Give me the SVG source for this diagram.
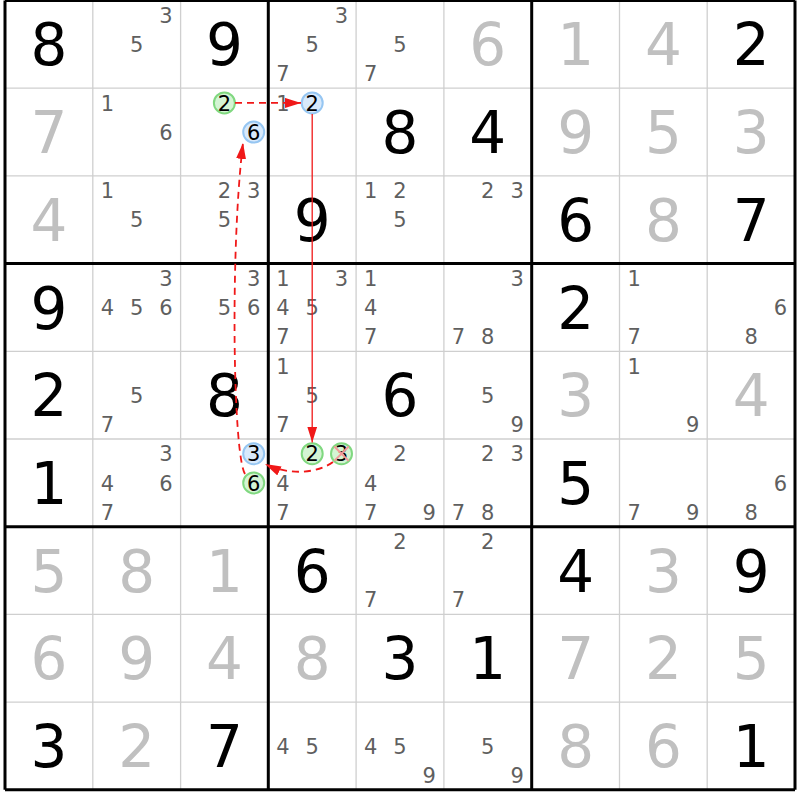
<svg xmlns="http://www.w3.org/2000/svg" width="800" height="800" viewBox="0 0 800 800">
<style>
text{font-family:"DejaVu Sans","Verdana",sans-serif;text-anchor:middle}
.g{font-size:58px;fill:#000}
.s{font-size:58px;fill:#c0c0c0}
.c{font-size:21px;fill:#5f5f5f}
.h{font-size:21px;fill:#000}
.thin{stroke:#cfcfcf;stroke-width:1.3}
.thick{stroke:#000;stroke-width:3}
.cg{fill:#d4f4d4;stroke:#80d880;stroke-width:2}
.cb{fill:#d8e9fb;stroke:#96c6f2;stroke-width:2}
.x{stroke:#f29a9a;stroke-width:2}
.dash{fill:none;stroke:#f01818;stroke-width:1.8;stroke-dasharray:7 5}
.solid{fill:none;stroke:#f01818;stroke-width:1.3}
</style>
<defs>
<marker id="ah" markerUnits="userSpaceOnUse" markerWidth="16" markerHeight="10" refX="16" refY="5" orient="auto">
<path d="M0,0 L16,5 L0,10 z" fill="#f01818"/>
</marker>
</defs>
<rect width="800" height="800" fill="#fff"/>
<g id="grid">
<path class="thin" d="M92.8,0.5V789.8M180.6,0.5V789.8M356.1,0.5V789.8M443.9,0.5V789.8M619.5,0.5V789.8M707.2,0.5V789.8M5,88.2H795M5,175.9H795M5,351.3H795M5,439H795M5,614.4H795M5,702.1H795"/>
<path class="thick" d="M5,0.5V789.8M268.3,0.5V789.8M531.7,0.5V789.8M795,0.5V789.8M5,0.5H795M5,263.6H795M5,526.7H795M5,789.8H795"/>
</g>
<g id="r0">
<g id="r0c0"><text class="g" x="48.9" y="65.4">8</text></g>
<g id="r0c1"><text class="c" x="166" y="22.8">3</text><text class="c" x="136.7" y="52">5</text></g>
<g id="r0c2"><text class="g" x="224.4" y="65.4">9</text></g>
<g id="r0c3"><text class="c" x="341.5" y="22.8">3</text><text class="c" x="312.2" y="52">5</text><text class="c" x="282.9" y="81.2">7</text></g>
<g id="r0c4"><text class="c" x="400" y="52">5</text><text class="c" x="370.7" y="81.2">7</text></g>
<g id="r0c5"><text class="s" x="487.8" y="65.4">6</text></g>
<g id="r0c6"><text class="s" x="575.6" y="65.4">1</text></g>
<g id="r0c7"><text class="s" x="663.4" y="65.4">4</text></g>
<g id="r0c8"><text class="g" x="751.1" y="65.4">2</text></g>
</g>
<g id="r1">
<g id="r1c0"><text class="s" x="48.9" y="153.1">7</text></g>
<g id="r1c1"><text class="c" x="107.4" y="110.5">1</text><text class="c" x="166" y="139.7">6</text></g>
<g id="r1c2"><circle class="cg" cx="224.4" cy="102.9" r="10.5"/><text class="h" x="224.4" y="110.5">2</text><circle class="cb" cx="253.7" cy="132.1" r="10.5"/><text class="h" x="253.7" y="139.7">6</text></g>
<g id="r1c3"><text class="c" x="282.9" y="110.5">1</text><circle class="cb" cx="312.2" cy="102.9" r="10.5"/><text class="h" x="312.2" y="110.5">2</text></g>
<g id="r1c4"><text class="g" x="400" y="153.1">8</text></g>
<g id="r1c5"><text class="g" x="487.8" y="153.1">4</text></g>
<g id="r1c6"><text class="s" x="575.6" y="153.1">9</text></g>
<g id="r1c7"><text class="s" x="663.4" y="153.1">5</text></g>
<g id="r1c8"><text class="s" x="751.1" y="153.1">3</text></g>
</g>
<g id="r2">
<g id="r2c0"><text class="s" x="48.9" y="240.8">4</text></g>
<g id="r2c1"><text class="c" x="107.4" y="198.2">1</text><text class="c" x="136.7" y="227.4">5</text></g>
<g id="r2c2"><text class="c" x="224.4" y="198.2">2</text><text class="c" x="253.7" y="198.2">3</text><text class="c" x="224.4" y="227.4">5</text></g>
<g id="r2c3"><text class="g" x="312.2" y="240.8">9</text></g>
<g id="r2c4"><text class="c" x="370.7" y="198.2">1</text><text class="c" x="400" y="198.2">2</text><text class="c" x="400" y="227.4">5</text></g>
<g id="r2c5"><text class="c" x="487.8" y="198.2">2</text><text class="c" x="517.1" y="198.2">3</text></g>
<g id="r2c6"><text class="g" x="575.6" y="240.8">6</text></g>
<g id="r2c7"><text class="s" x="663.4" y="240.8">8</text></g>
<g id="r2c8"><text class="g" x="751.1" y="240.8">7</text></g>
</g>
<g id="r3">
<g id="r3c0"><text class="g" x="48.9" y="328.5">9</text></g>
<g id="r3c1"><text class="c" x="166" y="285.9">3</text><text class="c" x="107.4" y="315.1">4</text><text class="c" x="136.7" y="315.1">5</text><text class="c" x="166" y="315.1">6</text></g>
<g id="r3c2"><text class="c" x="253.7" y="285.9">3</text><text class="c" x="224.4" y="315.1">5</text><text class="c" x="253.7" y="315.1">6</text></g>
<g id="r3c3"><text class="c" x="282.9" y="285.9">1</text><text class="c" x="341.5" y="285.9">3</text><text class="c" x="282.9" y="315.1">4</text><text class="c" x="312.2" y="315.1">5</text><text class="c" x="282.9" y="344.3">7</text></g>
<g id="r3c4"><text class="c" x="370.7" y="285.9">1</text><text class="c" x="370.7" y="315.1">4</text><text class="c" x="370.7" y="344.3">7</text></g>
<g id="r3c5"><text class="c" x="517.1" y="285.9">3</text><text class="c" x="458.5" y="344.3">7</text><text class="c" x="487.8" y="344.3">8</text></g>
<g id="r3c6"><text class="g" x="575.6" y="328.5">2</text></g>
<g id="r3c7"><text class="c" x="634.1" y="285.9">1</text><text class="c" x="634.1" y="344.3">7</text></g>
<g id="r3c8"><text class="c" x="780.4" y="315.1">6</text><text class="c" x="751.1" y="344.3">8</text></g>
</g>
<g id="r4">
<g id="r4c0"><text class="g" x="48.9" y="416.2">2</text></g>
<g id="r4c1"><text class="c" x="136.7" y="402.8">5</text><text class="c" x="107.4" y="432">7</text></g>
<g id="r4c2"><text class="g" x="224.4" y="416.2">8</text></g>
<g id="r4c3"><text class="c" x="282.9" y="373.6">1</text><text class="c" x="312.2" y="402.8">5</text><text class="c" x="282.9" y="432">7</text></g>
<g id="r4c4"><text class="g" x="400" y="416.2">6</text></g>
<g id="r4c5"><text class="c" x="487.8" y="402.8">5</text><text class="c" x="517.1" y="432">9</text></g>
<g id="r4c6"><text class="s" x="575.6" y="416.2">3</text></g>
<g id="r4c7"><text class="c" x="634.1" y="373.6">1</text><text class="c" x="692.7" y="432">9</text></g>
<g id="r4c8"><text class="s" x="751.1" y="416.2">4</text></g>
</g>
<g id="r5">
<g id="r5c0"><text class="g" x="48.9" y="503.9">1</text></g>
<g id="r5c1"><text class="c" x="166" y="461.3">3</text><text class="c" x="107.4" y="490.5">4</text><text class="c" x="166" y="490.5">6</text><text class="c" x="107.4" y="519.7">7</text></g>
<g id="r5c2"><circle class="cb" cx="253.7" cy="453.7" r="10.5"/><text class="h" x="253.7" y="461.3">3</text><circle class="cg" cx="253.7" cy="482.9" r="10.5"/><text class="h" x="253.7" y="490.5">6</text></g>
<g id="r5c3"><circle class="cg" cx="312.2" cy="453.7" r="10.5"/><text class="h" x="312.2" y="461.3">2</text><circle class="cg" cx="341.5" cy="453.7" r="10.5"/><text class="h" x="341.5" y="461.3">3</text><path class="x" d="M334.3,446.5L348.7,460.9M348.7,446.5L334.3,460.9"/><text class="c" x="282.9" y="490.5">4</text><text class="c" x="282.9" y="519.7">7</text></g>
<g id="r5c4"><text class="c" x="400" y="461.3">2</text><text class="c" x="370.7" y="490.5">4</text><text class="c" x="370.7" y="519.7">7</text><text class="c" x="429.3" y="519.7">9</text></g>
<g id="r5c5"><text class="c" x="487.8" y="461.3">2</text><text class="c" x="517.1" y="461.3">3</text><text class="c" x="458.5" y="519.7">7</text><text class="c" x="487.8" y="519.7">8</text></g>
<g id="r5c6"><text class="g" x="575.6" y="503.9">5</text></g>
<g id="r5c7"><text class="c" x="634.1" y="519.7">7</text><text class="c" x="692.7" y="519.7">9</text></g>
<g id="r5c8"><text class="c" x="780.4" y="490.5">6</text><text class="c" x="751.1" y="519.7">8</text></g>
</g>
<g id="r6">
<g id="r6c0"><text class="s" x="48.9" y="591.6">5</text></g>
<g id="r6c1"><text class="s" x="136.7" y="591.6">8</text></g>
<g id="r6c2"><text class="s" x="224.4" y="591.6">1</text></g>
<g id="r6c3"><text class="g" x="312.2" y="591.6">6</text></g>
<g id="r6c4"><text class="c" x="400" y="549">2</text><text class="c" x="370.7" y="607.4">7</text></g>
<g id="r6c5"><text class="c" x="487.8" y="549">2</text><text class="c" x="458.5" y="607.4">7</text></g>
<g id="r6c6"><text class="g" x="575.6" y="591.6">4</text></g>
<g id="r6c7"><text class="s" x="663.4" y="591.6">3</text></g>
<g id="r6c8"><text class="g" x="751.1" y="591.6">9</text></g>
</g>
<g id="r7">
<g id="r7c0"><text class="s" x="48.9" y="679.3">6</text></g>
<g id="r7c1"><text class="s" x="136.7" y="679.3">9</text></g>
<g id="r7c2"><text class="s" x="224.4" y="679.3">4</text></g>
<g id="r7c3"><text class="s" x="312.2" y="679.3">8</text></g>
<g id="r7c4"><text class="g" x="400" y="679.3">3</text></g>
<g id="r7c5"><text class="g" x="487.8" y="679.3">1</text></g>
<g id="r7c6"><text class="s" x="575.6" y="679.3">7</text></g>
<g id="r7c7"><text class="s" x="663.4" y="679.3">2</text></g>
<g id="r7c8"><text class="s" x="751.1" y="679.3">5</text></g>
</g>
<g id="r8">
<g id="r8c0"><text class="g" x="48.9" y="767">3</text></g>
<g id="r8c1"><text class="s" x="136.7" y="767">2</text></g>
<g id="r8c2"><text class="g" x="224.4" y="767">7</text></g>
<g id="r8c3"><text class="c" x="282.9" y="753.6">4</text><text class="c" x="312.2" y="753.6">5</text></g>
<g id="r8c4"><text class="c" x="370.7" y="753.6">4</text><text class="c" x="400" y="753.6">5</text><text class="c" x="429.3" y="782.8">9</text></g>
<g id="r8c5"><text class="c" x="487.8" y="753.6">5</text><text class="c" x="517.1" y="782.8">9</text></g>
<g id="r8c6"><text class="s" x="575.6" y="767">8</text></g>
<g id="r8c7"><text class="s" x="663.4" y="767">6</text></g>
<g id="r8c8"><text class="g" x="751.1" y="767">1</text></g>
</g>
<g id="connectors">
<path class="dash" d="M235,102.9 L301,102.9" marker-end="url(#ah)"/>
<path class="solid" d="M312.2,114 L312.2,442.5" marker-end="url(#ah)"/>
<path class="dash" d="M333,462 C318,473 290,476 265,464" marker-end="url(#ah)"/>
<path class="dash" d="M245,474 C233,455 230,250 243,143" marker-end="url(#ah)"/>
</g>
</svg>
